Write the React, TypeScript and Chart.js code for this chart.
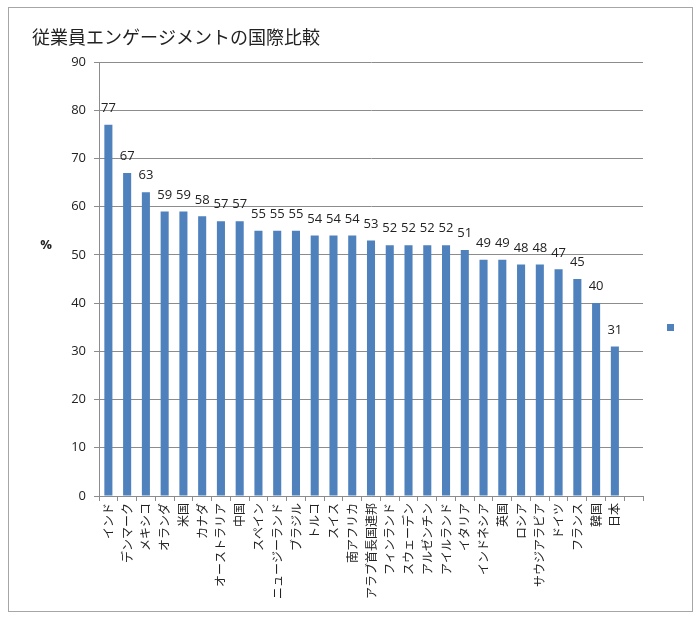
import React, { useEffect, useRef } from "react";
import { Chart, registerables } from "chart.js";

Chart.register(...registerables);

const TITLE = "従業員エンゲージメントの国際比較";
const Y_LABEL = "%";
const countries = [
  "インド", "デンマーク", "メキシコ", "オランダ", "米国", "カナダ", "オーストラリア", "中国",
  "スペイン", "ニュージーランド", "ブラジル", "トルコ", "スイス", "南アフリカ", "アラブ首長国連邦",
  "フィンランド", "スウェーデン", "アルゼンチン", "アイルランド", "イタリア", "インドネシア", "英国",
  "ロシア", "サウジアラビア", "ドイツ", "フランス", "韓国", "日本", "",
];
const values: (number | null)[] = [
  77, 67, 63, 59, 59, 58, 57, 57, 55, 55, 55, 54, 54, 54, 53,
  52, 52, 52, 52, 51, 49, 49, 48, 48, 47, 45, 40, 31, null,
];
const Y_MIN = 0;
const Y_MAX = 90;
const Y_STEP = 10;

const BAR_COLOR = "#4F81BD";
const GRID_COLOR = "#8C8C8C";
const NUM_FONT = "'Open Sans', 'Noto Sans CJK JP', sans-serif";
const JP_FONT = "'Noto Sans CJK JP', sans-serif";

const decorPlugin = {
  id: "decor",
  beforeDraw(chart: any) {
    const ctx = chart.ctx;
    ctx.save();
    ctx.fillStyle = "#fff";
    ctx.fillRect(0, 0, chart.width, chart.height);
    ctx.strokeStyle = "#A6A6A6";
    ctx.lineWidth = 1;
    ctx.strokeRect(8.5, 7.5, 684, 604);
    ctx.restore();
  },
  afterDraw(chart: any) {
    const ctx = chart.ctx;
    ctx.save();
    // title
    ctx.fillStyle = "#222";
    ctx.font = `18px ${JP_FONT}`;
    ctx.textAlign = "left";
    ctx.textBaseline = "middle";
    ctx.fillText(TITLE, 32, 37);
    // y label
    ctx.font = `bold 13px ${NUM_FONT}`;
    ctx.textAlign = "center";
    ctx.fillText(Y_LABEL, 46, 245);
    // value labels
    ctx.font = `13px ${NUM_FONT}`;
    ctx.textBaseline = "bottom";
    const meta = chart.getDatasetMeta(0);
    meta.data.forEach((el: any, i: number) => {
      const v = values[i];
      if (v === null || v === undefined) return;
      ctx.fillText(String(v), el.x, el.y - 10);
    });
    // legend marker
    ctx.fillStyle = BAR_COLOR;
    ctx.fillRect(667, 324, 7, 7);
    ctx.restore();
  },
};

export default function App() {
  const ref = useRef<HTMLCanvasElement | null>(null);
  useEffect(() => {
    if (!ref.current) return;
    const chart = new Chart(ref.current, {
      type: "bar",
      data: {
        labels: countries,
        datasets: [
          {
            data: values,
            backgroundColor: BAR_COLOR,
            borderWidth: 0,
            barPercentage: 0.43,
            categoryPercentage: 1,
          },
        ],
      },
      options: {
        responsive: false,
        animation: false,
        layout: { padding: { top: 62, right: 57, left: 0, bottom: 0 } },
        plugins: {
          legend: { display: false },
          title: { display: false },
          tooltip: { enabled: false },
        },
        scales: {
          x: {
            afterFit: (s: any) => {
              s.height = 127;
            },
            grid: {
              offset: true,
              drawOnChartArea: false,
              drawTicks: true,
              tickLength: 5,
              color: GRID_COLOR,
            },
            border: { color: GRID_COLOR },
            ticks: {
              autoSkip: false,
              maxRotation: 90,
              minRotation: 90,
              padding: 2,
              color: "#222",
              font: { family: JP_FONT, size: 12 },
            },
          },
          y: {
            min: Y_MIN,
            max: Y_MAX,
            afterFit: (s: any) => {
              s.width = 99;
            },
            grid: {
              color: GRID_COLOR,
              tickLength: 5,
            },
            border: { color: GRID_COLOR },
            ticks: {
              stepSize: Y_STEP,
              padding: 8,
              color: "#222",
              font: { family: NUM_FONT, size: 13 },
            },
          },
        },
      },
      plugins: [decorPlugin],
    });
    return () => chart.destroy();
  }, []);
  return (
    <div style={{ position: "absolute", left: 0, top: 0, width: 700, height: 623 }}>
      <canvas ref={ref} width={700} height={623} style={{ width: 700, height: 623 }} />
    </div>
  );
}
